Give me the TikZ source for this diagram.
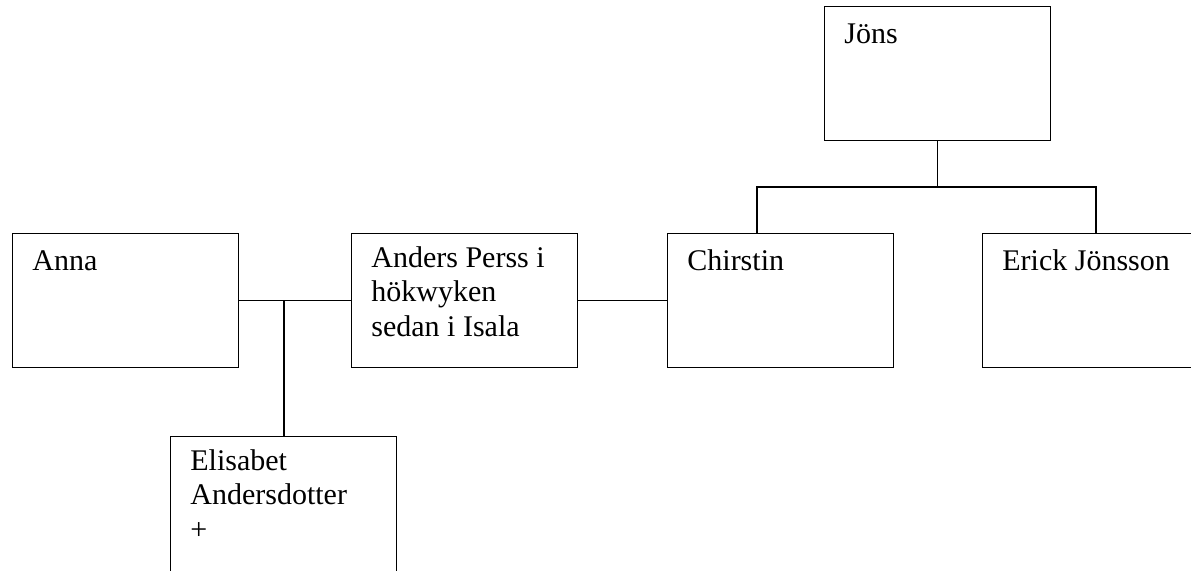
\documentclass[tikz,border=0pt]{standalone}
\usepackage{fontspec}
\setmainfont{Liberation Serif}
\usetikzlibrary{positioning}
\newcommand{\boxWidth}{113pt}
\newcommand{\boxHeight}{67pt}

\tikzset{
	person/.style={rectangle,draw=black,line width=0.6pt,anchor=north west,inner sep=0pt,
		minimum width=\boxWidth,minimum height=\boxHeight},
	who/.style={anchor=north west,inner sep=0pt,align=left,label distance=0pt,
		xshift=10pt,yshift=-6.4pt,font=\fontsize{15}{17.25}\selectfont,
		execute at begin node=\strut},
	link/.style={line width=0.6pt,draw=black}
}

\begin{document}
\begin{tikzpicture}[x=0.5pt,y=-0.5pt]
	\useasboundingbox (0,0) rectangle (1191,570);

	\node[person,label={[who]north west:Jöns}] (JONS) at (824,6) {};
	\node[person,label={[who]north west:Anna}] (ANNA) at (12,233) {};
	\node[person,label={[who]north west:Anders Perss i\\hökwyken\\sedan i Isala}] (ANDERS) at (351,233) {};
	\node[person,label={[who]north west:Chirstin}] (CHIRSTIN) at (667,233) {};
	\node[person,label={[who]north west:Erick Jönsson}] (ERICK) at (982,233) {};
	\node[person,minimum height=75pt,label={[who]north west:Elisabet\\Andersdotter\\+}] (ELISABET) at (170,436) {};

	\coordinate (SIBS) at (JONS.south |- 0,187);
	\coordinate (MARR) at (284,300);

	\draw[link] (JONS.south) -- (SIBS);
	\draw[link] ([xshift=45pt]CHIRSTIN.north west) |- (SIBS) -| ([xshift=57pt]ERICK.north west);
	\draw[link] (ANNA.east) -- (ANDERS.west);
	\draw[link] (MARR) -- (MARR |- ELISABET.north);
	\draw[link] (ANDERS.east) -- (CHIRSTIN.west);
\end{tikzpicture}
\end{document}
